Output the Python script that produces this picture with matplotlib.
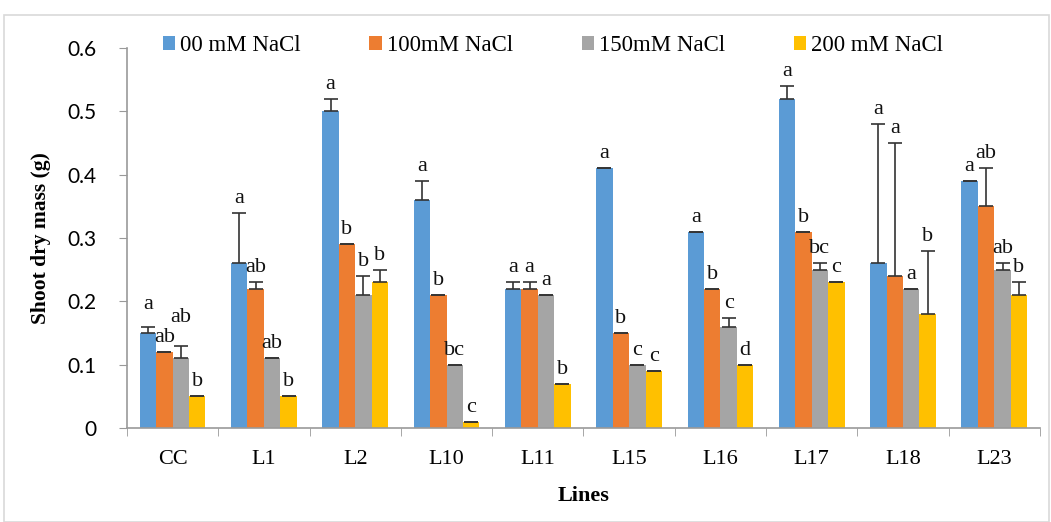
import numpy as np
import matplotlib
matplotlib.use("Agg")
from matplotlib import pyplot as plt
from matplotlib.patches import Rectangle

lines = ["CC", "L1", "L2", "L10", "L11", "L15", "L16", "L17", "L18", "L23"]
series = ["00 mM NaCl", "100mM NaCl", "150mM NaCl", "200 mM NaCl"]

nacl_0 = [0.15, 0.26, 0.50, 0.36, 0.22, 0.41, 0.31, 0.52, 0.26, 0.39]
nacl_100 = [0.12, 0.22, 0.29, 0.21, 0.22, 0.15, 0.22, 0.31, 0.24, 0.35]
nacl_150 = [0.11, 0.11, 0.21, 0.10, 0.21, 0.10, 0.16, 0.25, 0.22, 0.25]
nacl_200 = [0.05, 0.05, 0.23, 0.01, 0.07, 0.09, 0.10, 0.23, 0.18, 0.21]

err_0 = [0.01, 0.08, 0.02, 0.03, 0.01, 0.0, 0.0, 0.02, 0.22, 0.0]
err_100 = [0.0, 0.01, 0.0, 0.0, 0.01, 0.0, 0.0, 0.0, 0.21, 0.06]
err_150 = [0.02, 0.0, 0.03, 0.0, 0.0, 0.0, 0.013, 0.01, 0.0, 0.01]
err_200 = [0.0, 0.0, 0.02, 0.0, 0.0, 0.0, 0.0, 0.0, 0.10, 0.02]

letters_0 = ["a", "a", "a", "a", "a", "a", "a", "a", "a", "a"]
letters_100 = ["ab", "ab", "b", "b", "a", "b", "b", "b", "a", "ab"]
letters_150 = ["ab", "ab", "b", "bc", "a", "c", "c", "bc", "a", "ab"]
letters_200 = ["b", "b", "b", "c", "b", "c", "d", "c", "b", "b"]

colors = ["#5B9BD5", "#ED7D31", "#A5A5A5", "#FFC000"]

# extra lift for crowded letter labels: (line index, series index) -> dy
lift = {(0, 0): 0.012, (0, 2): 0.022}

plt.rcParams["font.family"] = ["Liberation Serif", "DejaVu Serif"]

fig = plt.figure(figsize=(10.51, 5.22), dpi=100)
ax = fig.add_axes([0.1208, 0.18, 0.8687, 0.728])

x = np.arange(len(lines))
w = 0.18
values = [nacl_0, nacl_100, nacl_150, nacl_200]
errors = [err_0, err_100, err_150, err_200]
letters = [letters_0, letters_100, letters_150, letters_200]

for i in range(4):
    pos = x + (i - 1.5) * w
    ax.bar(pos, values[i], width=w, color=colors[i], label=series[i], zorder=2)
    ax.errorbar(pos, values[i], yerr=[np.zeros(len(lines)), errors[i]],
                fmt="none", ecolor="#333333", elinewidth=1.2, capsize=5,
                capthick=1.2, zorder=3)
    for j, (p, v, e, t) in enumerate(zip(pos, values[i], errors[i], letters[i])):
        dy = lift.get((j, i), 0.0)
        ax.text(p, v + e + 0.008 + dy, t, ha="center", va="bottom", fontsize=16,
                color="#111111")

ax.set_xlim(-0.5, len(lines) - 0.5)
ax.set_ylim(0, 0.6)
ax.set_yticks(np.arange(0, 0.61, 0.1))
ax.set_yticklabels(["0", "0.1", "0.2", "0.3", "0.4", "0.5", "0.6"],
                   family=["Lato", "DejaVu Sans"])
ax.set_xticks(x)
ax.set_xticklabels(lines)
ax.set_xticks(np.arange(-0.5, len(lines)), minor=True)
ax.tick_params(axis="x", which="major", length=0, labelsize=16, pad=16)
ax.tick_params(axis="x", which="minor", length=6, color="#999999")
ax.tick_params(axis="y", length=6, color="#999999", labelsize=15, pad=16)

for s in ["top", "right"]:
    ax.spines[s].set_visible(False)
ax.spines["left"].set_color("#999999")
ax.spines["bottom"].set_color("#999999")
ax.spines["left"].set_linewidth(1.2)
ax.spines["bottom"].set_linewidth(1.2)

ax.set_ylabel("Shoot dry mass (g)", fontsize=15.5, fontweight="bold", labelpad=12)
ax.set_xlabel("Lines", fontsize=16, fontweight="bold", labelpad=12)

fig.legend(loc="center", bbox_to_anchor=(0.526, 0.913), ncol=4, frameon=False,
           fontsize=16.5, handlelength=0.55, handleheight=0.55, handletextpad=0.2,
           columnspacing=3.0)

fig.patches.append(Rectangle((0.004, 0.0), 0.994, 0.971, transform=fig.transFigure,
                             fill=False, edgecolor="#d9d9d9", linewidth=1.2))

fig.savefig("out.png", dpi=100)
